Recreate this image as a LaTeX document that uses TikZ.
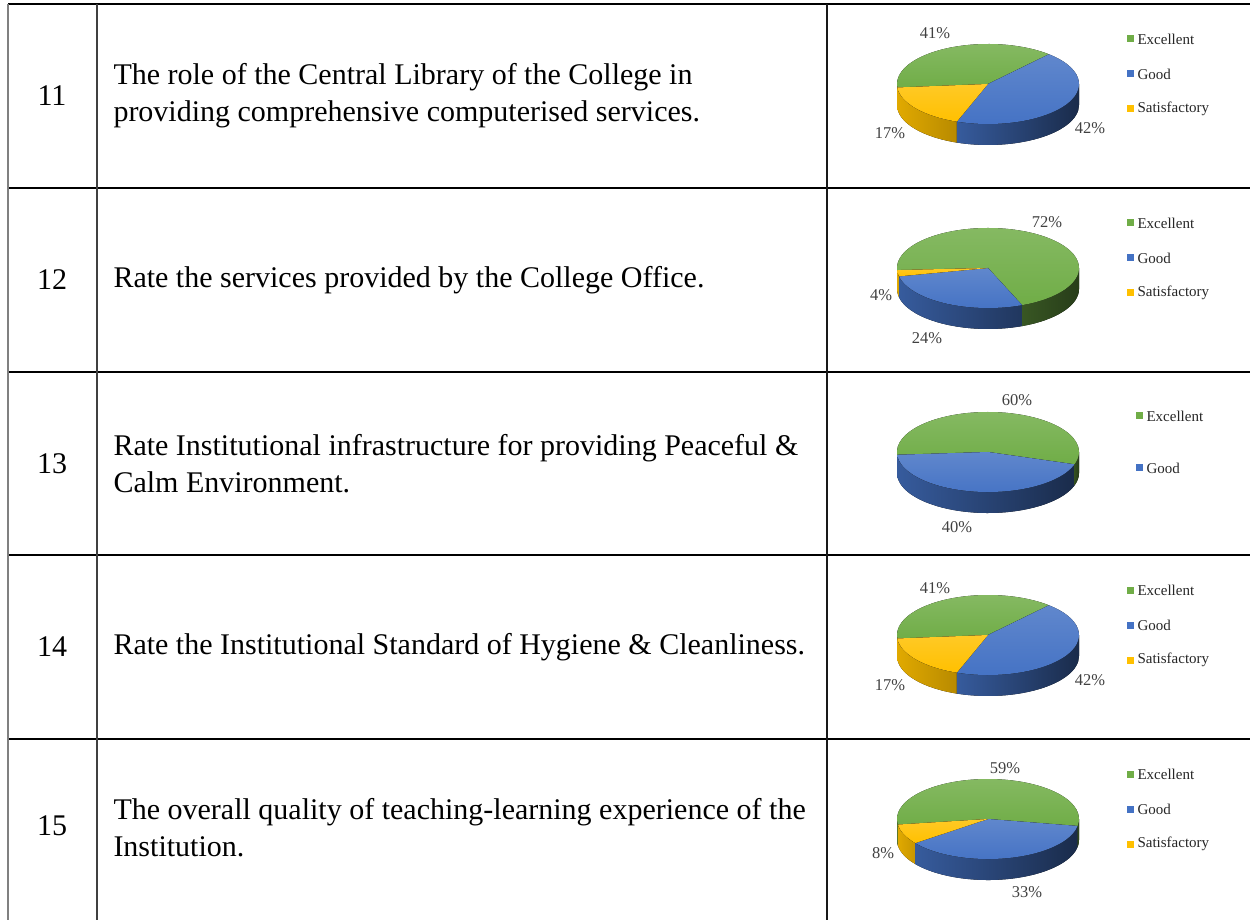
\documentclass[tikz,border=0pt]{standalone}
\usepackage{fontspec}
\setmainfont{Liberation Serif}
\definecolor{exgreen}{HTML}{70AD47}
\definecolor{goodblue}{HTML}{4472C4}
\definecolor{satyellow}{HTML}{FFC000}
\tikzstyle{rowline}=[line width=0.7pt]
\tikzstyle{colline}=[line width=0.45pt]
\tikzstyle{qnum}=[font=\fontsize{12}{14.8}\selectfont, inner sep=0pt]
\tikzstyle{question}=[qnum, anchor=west, align=left]
\tikzstyle{pct}=[font=\fontsize{6.6}{7.5}\selectfont, inner sep=0pt, text=black!75]
\tikzstyle{legbox}=[minimum size=2.8pt, inner sep=0pt]
\tikzstyle{legtext}=[anchor=west, font=\fontsize{6}{7}\selectfont, inner sep=0pt, text=black!85]
% top face of one slice, from angle #1 to #2
\newcommand{\pietop}[3]{%
  \fill[top color=#3!85!white, bottom color=#3] (0,0) -- (#1:91 and 40)
    arc[start angle=#1, end angle=#2, x radius=91, y radius=40] -- cycle;}
% front wall of one slice
\newcommand{\pieside}[4]{%
  \fill[left color=#3, right color=#4] (#1:91 and 40)
    arc[start angle=#1, end angle=#2, x radius=91, y radius=40] -- ++(0,-21)
    arc[start angle=#2, end angle=#1, x radius=91, y radius=40] -- cycle;}

\begin{document}
\begin{tikzpicture}[x=0.4pt,y=0.4pt]
    \useasboundingbox (0,0) rectangle (1250,920);

    % table
    \draw[rowline] (8,916) -- (1250,916);
    \draw[rowline] (8,732) -- (1250,732);
    \draw[rowline] (8,548) -- (1250,548);
    \draw[rowline] (8,365) -- (1250,365);
    \draw[rowline] (8,181) -- (1250,181);
    \draw[colline, black!50] (8,916) -- (8,0);
    \draw[colline, black!75] (97,916) -- (97,0);
    \draw[colline, black!90] (827,916) -- (827,0);

    \node[qnum] (N11) at (52,824) {11};
    \node[qnum] (N12) at (52,640) {12};
    \node[qnum] (N13) at (52,456) {13};
    \node[qnum] (N14) at (52,273) {14};
    \node[qnum] (N15) at (52,94)  {15};

    \node[question] (Q11) at (113,824) {The role of the Central Library of the College in\\providing comprehensive computerised services.};
    \node[question] (Q12) at (113,640) {Rate the services provided by the College Office.};
    \node[question] (Q13) at (113,456) {Rate Institutional infrastructure for providing Peaceful \&\\Calm Environment.};
    \node[question] (Q14) at (113,273) {Rate the Institutional Standard of Hygiene \& Cleanliness.};
    \node[question] (Q15) at (113,92)  {The overall quality of teaching-learning experience of the\\Institution.};

    % pie 11
    \begin{scope}[shift={(988,836)}]
        \pieside{-180}{-175}{exgreen!75!black}{exgreen!70!black}
        \pieside{-175}{-110}{satyellow!88!black}{satyellow!72!black}
        \pieside{-110}{0}{goodblue!80!black}{goodblue!38!black}
        \pietop{185}{48}{exgreen}
        \pietop{48}{-110}{goodblue}
        \pietop{-110}{-175}{satyellow}
    \end{scope}
    \node[pct] (P11a) at (935,887) {41\%};
    \node[pct] (P11b) at (1090,792) {42\%};
    \node[pct] (P11c) at (890,787) {17\%};

    % pie 12
    \begin{scope}[shift={(988,652)}]
        \pieside{-180}{-177}{exgreen!75!black}{exgreen!70!black}
        \pieside{-177}{-168}{satyellow!88!black}{satyellow!80!black}
        \pieside{-168}{-68}{goodblue!80!black}{goodblue!48!black}
        \pieside{-68}{0}{exgreen!50!black}{exgreen!35!black}
        \pietop{183}{-68}{exgreen}
        \pietop{-68}{-168}{goodblue}
        \pietop{-168}{-177}{satyellow}
    \end{scope}
    \node[pct] (P12a) at (1047,698) {72\%};
    \node[pct] (P12b) at (881,625) {4\%};
    \node[pct] (P12c) at (927,582) {24\%};

    % pie 13
    \begin{scope}[shift={(988,468)}]
        \pieside{-180}{-176}{exgreen!75!black}{exgreen!70!black}
        \pieside{-176}{-18}{goodblue!80!black}{goodblue!38!black}
        \pieside{-18}{0}{exgreen!45!black}{exgreen!35!black}
        \pietop{184}{-18}{exgreen}
        \pietop{-18}{-176}{goodblue}
    \end{scope}
    \node[pct] (P13a) at (1017,520) {60\%};
    \node[pct] (P13b) at (957,393) {40\%};

    % pie 14
    \begin{scope}[shift={(988,285)}]
        \pieside{-180}{-175}{exgreen!75!black}{exgreen!70!black}
        \pieside{-175}{-110}{satyellow!88!black}{satyellow!72!black}
        \pieside{-110}{0}{goodblue!80!black}{goodblue!38!black}
        \pietop{185}{48}{exgreen}
        \pietop{48}{-110}{goodblue}
        \pietop{-110}{-175}{satyellow}
    \end{scope}
    \node[pct] (P14a) at (935,332) {41\%};
    \node[pct] (P14b) at (1090,240) {42\%};
    \node[pct] (P14c) at (890,235) {17\%};

    % pie 15
    \begin{scope}[shift={(988,101)}]
        \pieside{-180}{-172}{exgreen!75!black}{exgreen!70!black}
        \pieside{-172}{-143}{satyellow!88!black}{satyellow!78!black}
        \pieside{-143}{-10}{goodblue!80!black}{goodblue!38!black}
        \pieside{-10}{0}{exgreen!45!black}{exgreen!35!black}
        \pietop{188}{-10}{exgreen}
        \pietop{-10}{-143}{goodblue}
        \pietop{-143}{-172}{satyellow}
    \end{scope}
    \node[pct] (P15a) at (1005,152) {59\%};
    \node[pct] (P15b) at (883,67) {8\%};
    \node[pct] (P15c) at (1027,28) {33\%};

    % legends
    \foreach \r/\y in {11/881,12/697,14/330,15/146}{
        \node[legbox, fill=exgreen] (B\r a) at (1130,\y) {};
        \node[legtext] (L\r a) at (1137,\y) {Excellent};
        \node[legbox, fill=goodblue] (B\r b) at (1130,\y-35) {};
        \node[legtext] (L\r b) at (1137,\y-35) {Good};
        \node[legbox, fill=satyellow] (B\r c) at (1130,\y-70) {};
        \node[legtext] (L\r c) at (1137,\y-70) {Satisfactory};
    }
    \node[legbox, fill=exgreen] (B13a) at (1139,504) {};
    \node[legtext] (L13a) at (1146,504) {Excellent};
    \node[legbox, fill=goodblue] (B13b) at (1139,452) {};
    \node[legtext] (L13b) at (1146,452) {Good};

\end{tikzpicture}
\end{document}
